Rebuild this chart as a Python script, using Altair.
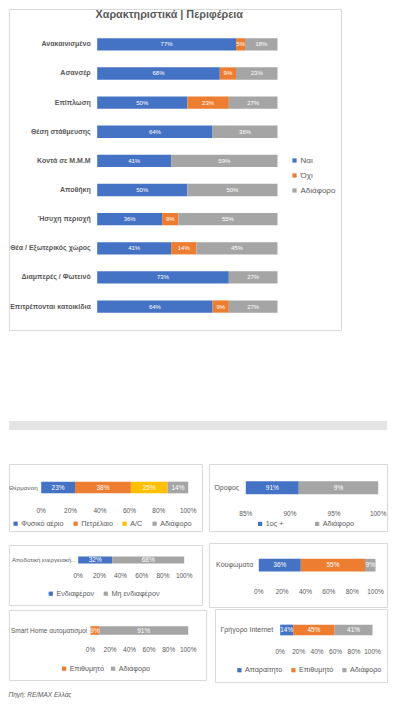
import altair as alt
import pandas as pd

FONT = "Liberation Sans"
TXT = "#595959"
BORDER = "#D9D9D9"
GRID = "#D9D9D9"
BLUE, ORANGE, GRAY, YELLOW = "#4472C4", "#ED7D31", "#A5A5A5", "#FFC000"

# ---------------- data ----------------
main_title = "Χαρακτηριστικά | Περιφέρεια"
main_categories = ["Ανακαινισμένο", "Ασανσέρ", "Επίπλωση", "Θέση στάθμευσης", "Κοντά σε Μ.Μ.Μ",
                   "Αποθήκη", "Ήσυχη περιοχή", "Θέα / Εξωτερικός χώρος", "Διαμπερές / Φωτεινό",
                   "Επιτρέπονται κατοικίδια"]
main_series = ["Ναι", "Όχι", "Αδιάφορο"]
main_yes = [77, 68, 50, 64, 41, 50, 36, 41, 73, 64]
main_no = [5, 9, 23, 0, 0, 0, 9, 14, 0, 9]
main_indiff = [18, 23, 27, 36, 59, 50, 55, 45, 27, 27]

heating_category = ["Θέρμανση"]
heating_series = ["Φυσικό αέριο", "Πετρέλαιο", "A/C", "Αδιάφορο"]
heating_values = [23, 38, 25, 14]

floor_category = ["Όροφος"]
floor_series = ["1ος +", "Αδιάφορο"]
floor_values = [91, 9]

energy_category = ["Αποδοτική ενεργειακή..."]
energy_series = ["Ενδιαφέρον", "Μη ενδιαφέρον"]
energy_values = [32, 68]

frames_category = ["Κουφώματα"]
frames_series = ["Απαραίτητο", "Επιθυμητό", "Αδιάφορο"]
frames_values = [36, 55, 9]

smart_category = ["Smart Home αυτοματισμοί"]
smart_series = ["Επιθυμητό", "Αδιάφορο"]
smart_values = [9, 91]

internet_category = ["Γρήγορο Internet"]
internet_series = ["Απαραίτητο", "Επιθυμητό", "Αδιάφορο"]
internet_values = [14, 45, 41]

source_text = "Πηγή: RE/MAX Ελλάς"
ticks_10 = [0, 0.1, 0.2, 0.3, 0.4, 0.5, 0.6, 0.7, 0.8, 0.9, 1.0]
ticks_20 = [0, 0.2, 0.4, 0.6, 0.8, 1.0]
floor_ticks = [0.85, 0.90, 0.95, 1.0]


def build_df(categories, series, matrix, lo=0.0, hi=1.0):
    rows = []
    for cat, vals in zip(categories, matrix):
        start = 0.0
        for k, (s, v) in enumerate(zip(series, vals)):
            end = start + v / 100.0
            v0, v1 = max(start, lo), min(end, hi)
            rows.append({"cat": cat, "series": s, "order": k, "start": start, "end": end,
                         "mid": (v0 + v1) / 2, "label": f"{v}%" if v > 0 else ""})
            start = end
    return pd.DataFrame(rows)


def make_legend(x, y, direction="horizontal", size=7.2, colpad=10, rowpad=4, sym=18):
    return alt.Legend(orient="none", legendX=x, legendY=y, direction=direction, title=None,
                      symbolType="square", symbolSize=sym, symbolStrokeWidth=0,
                      labelFont=FONT, labelFontSize=size, labelColor=TXT, labelOffset=2,
                      columnPadding=colpad, rowPadding=rowpad, padding=0)


def panel(df, categories, series, colors, *, width, height, xr, yr, po, pi=0.0,
          domain=(0, 1), ticks, tick_dy=None, tick_font=6.5,
          label_dx, label_size, label_weight="normal", value_size=6.5,
          legend=None, title=None, stroke=BORDER):
    xs = alt.Scale(domain=list(domain), range=list(xr), nice=False, zero=False, clamp=True)
    ys = alt.Scale(domain=categories, range=list(yr), paddingInner=pi, paddingOuter=po)
    cs = alt.Scale(domain=series, range=colors)
    grid_axis = alt.Axis(values=ticks, labels=False, ticks=False, domain=False, title=None,
                         grid=True, gridColor=GRID, gridWidth=0.8)
    base = alt.Chart(df)
    bars = base.mark_bar(clip=True).encode(
        x=alt.X("start:Q", scale=xs, axis=grid_axis),
        x2="end:Q",
        y=alt.Y("cat:N", scale=ys, sort=categories, axis=None),
        color=alt.Color("series:N", scale=cs, sort=series, legend=legend),
    )
    vals = base.transform_filter("datum.label != ''").mark_text(
        color="white", font=FONT, fontSize=value_size, baseline="middle", clip=True
    ).encode(
        x=alt.X("mid:Q", axis=None),
        y=alt.Y("cat:N", sort=categories, axis=None),
        text="label:N",
    )
    labs = alt.Chart(pd.DataFrame({"cat": categories})).mark_text(
        align="right", baseline="middle", dx=label_dx, font=FONT, fontSize=label_size,
        fontWeight=label_weight, color=TXT, clip=True
    ).encode(
        x=alt.XDatum(domain[0], axis=None),
        y=alt.Y("cat:N", sort=categories, axis=None),
        text="cat:N",
    )
    layers = [bars, vals, labs]
    if tick_dy is not None:
        tick_df = pd.DataFrame({"t": ticks, "cat": [categories[0]] * len(ticks)})
        tlab = alt.Chart(tick_df).mark_text(
            baseline="middle", align="center", dy=tick_dy, font=FONT, fontSize=tick_font,
            color=TXT
        ).encode(
            x=alt.X("t:Q", axis=None),
            y=alt.Y("cat:N", sort=categories, axis=None),
            text=alt.Text("t:Q", format=".0%"),
        )
        layers.append(tlab)
    ch = alt.layer(*layers).properties(
        width=width, height=height,
        view=alt.ViewBackground(stroke=stroke, strokeWidth=1, fill="white"))
    if title is not None:
        ch = ch.properties(title=title)
    return ch


def spacer(h, w=1, fill=None):
    vb = alt.ViewBackground(stroke=None, fill=fill) if fill else alt.ViewBackground(stroke=None)
    return alt.Chart(pd.DataFrame({"v": [0]})).mark_rect(opacity=0).encode(
        color=alt.value("white")).properties(width=w, height=h, view=vb)


# ---------------- panels ----------------
main_df = build_df(main_categories, main_series, list(zip(main_yes, main_no, main_indiff)))
main_panel = panel(
    main_df, main_categories, main_series, [BLUE, ORANGE, GRAY],
    width=332, height=321, xr=(88.2, 268.5), yr=(20.8, 312.1), pi=0.578, po=0.289,
    ticks=ticks_10, label_dx=-6.5, label_size=7.0, label_weight="bold",
    value_size=6, legend=make_legend(281.5, 147.5, direction="vertical", size=8, rowpad=7, sym=18),
    title=alt.TitleParams(main_title, font=FONT, fontSize=10.8, fontWeight="bold", color=TXT,
                          anchor="middle", dx=-5.7, offset=-11),
)

heat = panel(build_df(heating_category, heating_series, [heating_values]),
             heating_category, heating_series, [BLUE, ORANGE, YELLOW, GRAY],
             width=193, height=67, xr=(32.2, 179.2), yr=(9, 38), po=0.74, ticks=ticks_20,
             tick_dy=23, label_dx=-3.5, label_size=6.2,
             legend=make_legend(3, 56, colpad=8))

floor = panel(build_df(floor_category, floor_series, [floor_values], lo=0.85),
              floor_category, floor_series, [BLUE, GRAY],
              width=178, height=67, xr=(36.8, 169.2), yr=(9.7, 38), po=0.587,
              domain=(0.85, 1.0), ticks=floor_ticks, tick_dy=26.3, label_dx=-6.6,
              label_size=6.9, legend=make_legend(47.5, 56.2, colpad=30))

energy = panel(build_df(energy_category, energy_series, [energy_values]),
               energy_category, energy_series, [BLUE, GRAY],
               width=193, height=60, xr=(69.2, 175.2), yr=(11.2, 18.9), po=0.05,
               ticks=ticks_20, tick_dy=16.4, label_dx=-2, label_size=6.1,
               legend=make_legend(38.2, 45, colpad=8))

frames = panel(build_df(frames_category, frames_series, [frames_values]),
               frames_category, frames_series, [BLUE, ORANGE, GRAY],
               width=178, height=64, xr=(49.8, 166.5), yr=(8, 36.4), po=0.62,
               ticks=ticks_20, tick_dy=27, label_dx=-5.6, label_size=7, legend=None)

smart = panel(build_df(smart_category, smart_series, [smart_values]),
              smart_category, smart_series, [ORANGE, GRAY],
              width=197, height=70, xr=(81.5, 179.2), yr=(10.2, 30.8), po=0.69,
              ticks=ticks_20, tick_dy=19.8, label_dx=-3.5, label_size=6.5,
              legend=make_legend(51.5, 55, colpad=5))

internet = panel(build_df(internet_category, internet_series, [internet_values]),
                 internet_category, internet_series, [BLUE, ORANGE, GRAY],
                 width=172, height=73, xr=(65.2, 157.5), yr=(10.5, 31.5), po=0.48,
                 ticks=ticks_20, tick_dy=22, label_dx=-7, label_size=7,
                 legend=make_legend(20.8, 57.5, colpad=7))

# ---------------- layout ----------------
left_col = alt.vconcat(heat, spacer(12), energy, spacer(3), smart,
                       spacing=0).resolve_scale(color="independent")
internet_row = alt.hconcat(spacer(73, w=1), internet, spacing=4).resolve_scale(color="independent")
right_col = alt.vconcat(floor, spacer(10), frames, internet_row,
                        spacing=0).resolve_scale(color="independent")
bottom = alt.hconcat(left_col, right_col, spacing=1).resolve_scale(color="independent")

band = spacer(9, w=378, fill="#E4E4E4")

chart = alt.vconcat(
    main_panel, spacer(90), band, spacer(33), bottom, spacing=0
).resolve_scale(color="independent").properties(
    padding=0,
    title=alt.TitleParams(source_text, orient="bottom", anchor="start", font=FONT,
                          fontSize=6.5, fontStyle="italic", fontWeight="normal",
                          color=TXT, offset=9),
).configure(font=FONT)

chart.save("out.html", embed_options={"renderer": "svg", "actions": False})
